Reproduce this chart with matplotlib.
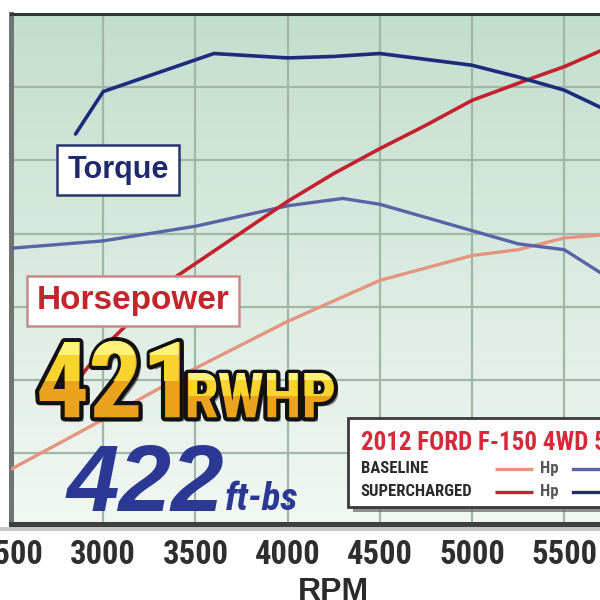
import numpy as np
import matplotlib
matplotlib.use('Agg')
import matplotlib.pyplot as plt
import matplotlib.font_manager as fm
import matplotlib.patheffects as pe
from matplotlib.patches import Rectangle

# dyno readings
rpm_bl_tq = [2500, 3000, 3500, 4000, 4300, 4500, 4750, 5000, 5250, 5500, 5700]
bl_tq = [290, 295, 305, 319, 324, 320, 311, 302, 293, 289, 273]

rpm_bl_hp = [2500, 3000, 3500, 4000, 4500, 5000, 5250, 5500, 5700]
bl_hp = [139, 173, 208, 240, 268, 285, 289, 297, 299]

rpm_sc_tq = [2850, 3000, 3600, 4000, 4250, 4500, 4750, 5000, 5250, 5500, 5700]
sc_tq = [368, 397, 423, 420, 421, 423, 419, 415, 407, 398, 386]

rpm_sc_hp = [2850, 3000, 3400, 4000, 4250, 4500, 4750, 5000, 5300, 5500, 5700]
sc_hp = [198, 222, 271, 322, 341, 358, 374, 391, 405, 414, 425]

rpm_ticks = [2500, 3000, 3500, 4000, 4500, 5000, 5500]
y_grid = [150, 200, 250, 300, 350, 400]

peak_hp = '421'
peak_tq = '422'
title = '2012 FORD F-150 4WD 5.0L'
rows = ['BASELINE', 'SUPERCHARGED']

c_bl_hp = '#e39580'
c_bl_tq = '#5a63a6'
c_sc_hp = '#c4212e'
c_sc_tq = '#1e2a7c'


def pick(*names):
    for n in names:
        try:
            fm.findfont(fm.FontProperties(family=n), fallback_to_default=False)
            return n
        except ValueError:
            pass
    return 'DejaVu Sans'


narrow = pick('Liberation Sans Narrow', 'Roboto Condensed', 'DejaVu Sans')
wide = pick('Liberation Sans', 'DejaVu Sans')

fig = plt.figure(figsize=(6, 6), dpi=100)
ax = fig.add_axes([11 / 600, 76 / 600, 589 / 600, 510 / 600])

# background gradient, greener at the top
grad = np.linspace(0, 1, 256).reshape(-1, 1)
top = np.array([0.76, 0.87, 0.808])
bot = np.array([0.95, 0.97, 0.955])
img = top + (bot - top) * grad[..., None]
ax.imshow(img, extent=(2508, 5694, 101.6, 450), origin='upper', aspect='auto', zorder=0)
ax.set_xlim(2508, 5694)
ax.set_ylim(101.6, 450)

for r in rpm_ticks:
    ax.axvline(r, color='#a0b6a8', lw=1.6, zorder=1)
for v in y_grid:
    ax.axhline(v, color='#a0b6a8', lw=1.6, zorder=1)

kw = dict(zorder=3, solid_joinstyle='round', solid_capstyle='round')
ax.plot(rpm_bl_hp, bl_hp, color=c_bl_hp, lw=2.4, **kw)
ax.plot(rpm_bl_tq, bl_tq, color=c_bl_tq, lw=2.4, **kw)
ax.plot(rpm_sc_hp, sc_hp, color=c_sc_hp, lw=2.6, **kw)
ax.plot(rpm_sc_tq, sc_tq, color=c_sc_tq, lw=2.6, **kw)

ax.set_xticks(rpm_ticks)
ax.set_xticklabels([str(r) for r in rpm_ticks], family=narrow, weight='bold',
                   size=23.5, color='#2e2e2e')
ax.set_yticks([])
ax.tick_params(axis='x', length=0, pad=11)
ax.set_xlabel('RPM', family=wide, weight='bold', size=23, color='#2b2b2b')
ax.xaxis.set_label_coords(0.547, -0.104)

ax.spines['right'].set_visible(False)
ax.spines['top'].set_color('#323734')
ax.spines['top'].set_linewidth(2.2)
ax.spines['left'].set_color('#6e7572')
ax.spines['left'].set_linewidth(3.6)
ax.spines['bottom'].set_color('#3c403e')
ax.spines['bottom'].set_linewidth(3.6)
fig.patches.append(Rectangle((0, (600 - 531) / 600), 1, 4 / 600, transform=fig.transFigure,
                             facecolor='#c4c7c5', edgecolor='none', zorder=0))

# curve labels
ax.text(3081, 343.4, 'Torque', family=wide, weight='bold', size=22, color='#1f2a6e',
        ha='center', va='center', zorder=6,
        bbox=dict(boxstyle='square,pad=0.33', fc='white', ec='#2a3470', lw=1.8))
ax.text(3162, 254, 'Horsepower', family=wide, weight='bold', size=24, color='#c0262c',
        ha='center', va='center', zorder=6,
        bbox=dict(boxstyle='square,pad=0.28', fc='white', ec='#c98a86', lw=1.8))

# big 421 RWHP, layered for a yellow gradient
def gold(x, y, s, size):
    base = ax.text(x, y, s, family=narrow, weight='bold', size=size,
                   color='#eba21c', zorder=7,
                   path_effects=[pe.SimplePatchShadow(offset=(3, -3), shadow_rgbFace='k', alpha=0.45),
                                 pe.Stroke(linewidth=6, foreground='#111111'), pe.Normal()])
    bands = [('#f8d42e', 0.45), ('#fff27a', 0.78)]
    for col, frac in bands:
        t = ax.text(x, y, s, family=narrow, weight='bold', size=size,
                    color=col, zorder=8, clip_on=True)
        h = size / 72 * 100 * 0.716 / 510 * (450 - 101.6) + 3
        clip = Rectangle((2508, y + h * frac), 4000, 200, transform=ax.transData)
        t.set_clip_path(clip)
    return base

gold(2635, 174.5, peak_hp, 76)
gold(3440, 174.5, 'RWHP', 44)

ax.text(2800, 110.5, peak_tq, family=wide, weight='bold', style='italic', size=68,
        color='#2b3894', zorder=7)
ax.text(3660, 111.5, 'ft-bs', family=narrow, weight='bold', style='italic', size=28,
        color='#2b3894', zorder=7)

# legend panel
box = Rectangle((4325, 113.3), 1600, 60.7, fc='white', ec='#3a3a3a', lw=2, zorder=9,
                clip_on=False,
                path_effects=[pe.SimplePatchShadow(offset=(4, -4), shadow_rgbFace='#666666', alpha=0.7),
                              pe.Normal()])
ax.add_patch(box)
ax.text(4396, 152.2, title, family=narrow, weight='bold', size=18, color='#d42a3a',
        zorder=10, clip_on=False)
row_y = [139.2, 123.5]
hp_cols = [c_bl_hp, c_sc_hp]
tq_cols = [c_bl_tq, c_sc_tq]
for name, yy, ch, ct in zip(rows, row_y, hp_cols, tq_cols):
    ax.text(4396, yy, name, family=narrow, weight='bold', size=12, color='#2b2b2b',
            va='center', zorder=10)
    ax.plot([5123, 5328], [yy, yy], color=ch, lw=2.4, zorder=10, solid_capstyle='butt')
    ax.text(5367, yy, 'Hp', family=narrow, weight='bold', size=12, color='#555555',
            va='center', zorder=10)
    ax.plot([5548, 5800], [yy, yy], color=ct, lw=2.4, zorder=10, clip_on=False)

fig.savefig('out.png', dpi=100, facecolor='white')
